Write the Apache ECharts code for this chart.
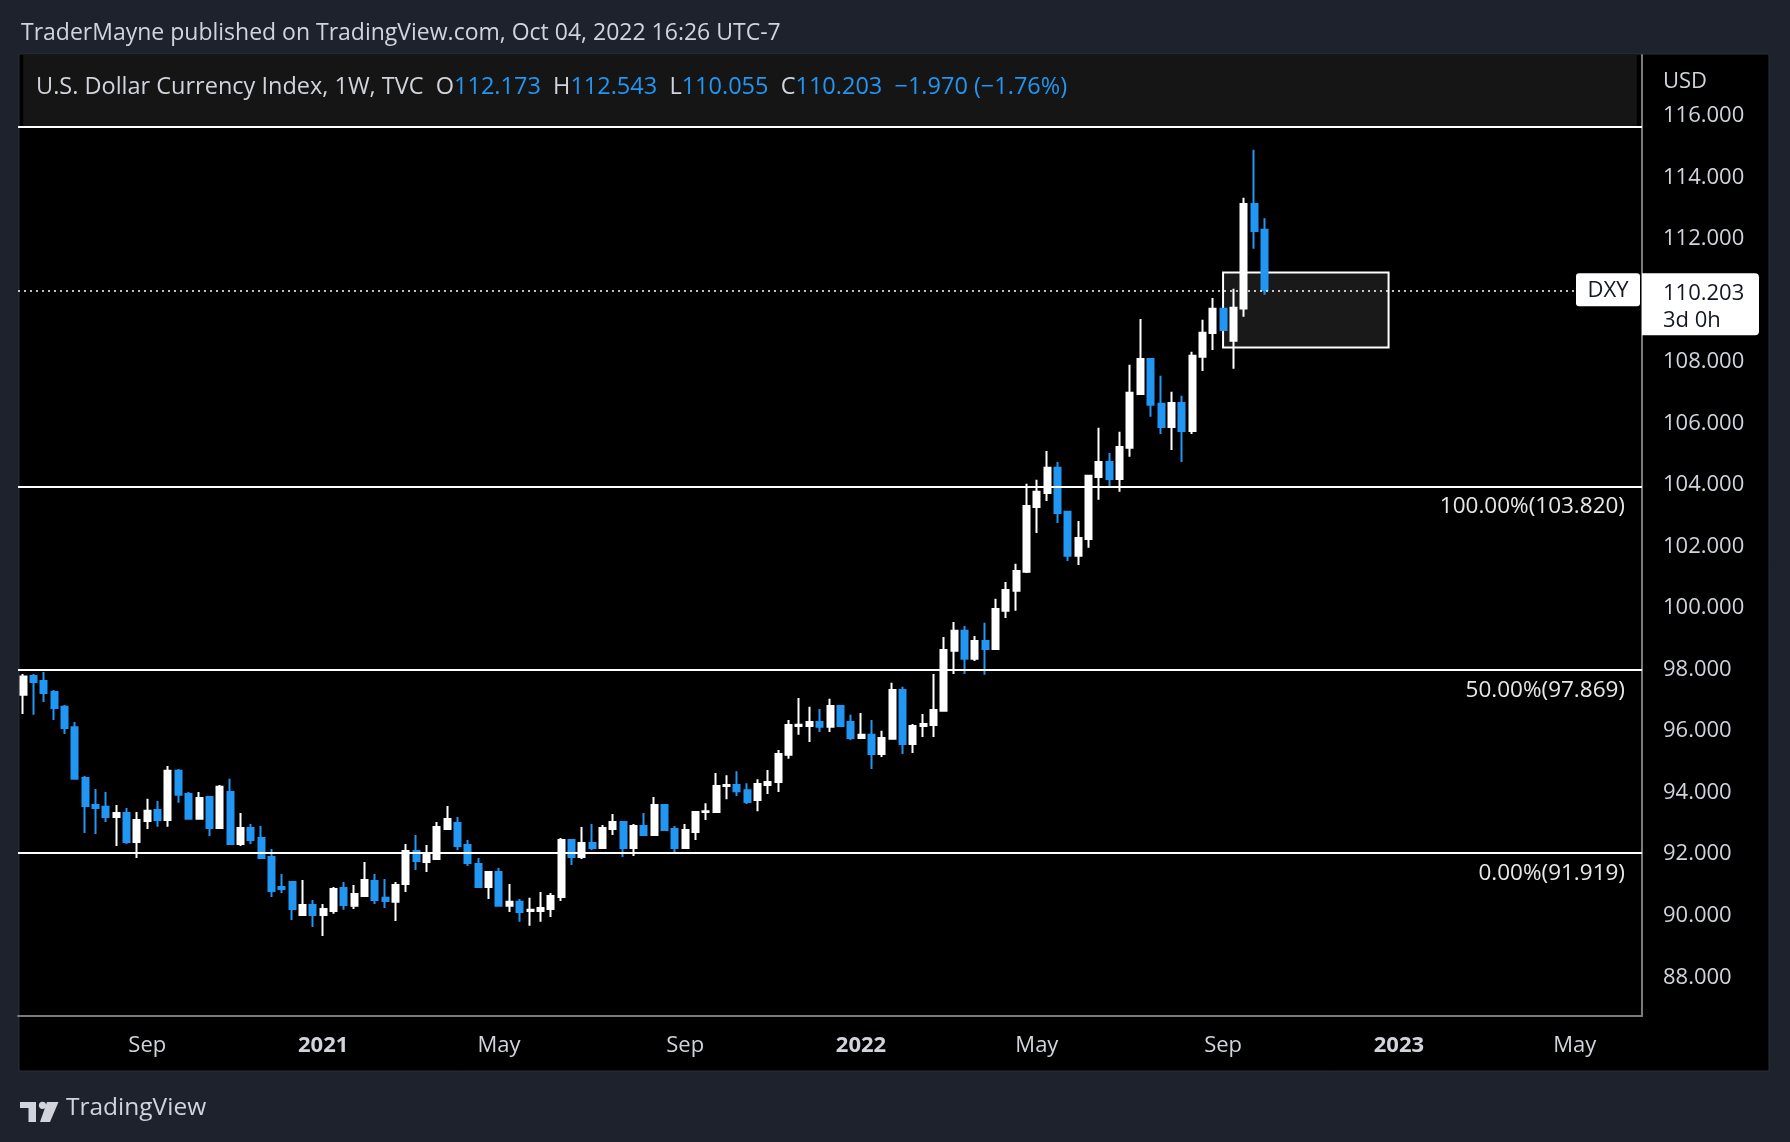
<!DOCTYPE html>
<html>
<head>
<meta charset="utf-8">
<script src="https://cdn.jsdelivr.net/npm/echarts@6/dist/echarts.min.js"></script>
<style>
html, body { margin: 0; padding: 0; background: #1e222d; }
#main { width: 1790px; height: 1142px; }
</style>
</head>
<body>
<div id="main"></div>
<script>
// weekly DXY candles, first bar = week of 2020-06-15
var firstWeek = Date.UTC(2020, 5, 15);
var weekCount = 157;
var monthNames = ['Jan','Feb','Mar','Apr','May','Jun','Jul','Aug','Sep','Oct','Nov','Dec'];

var openPrices = [97.05,97.66,97.50,97.14,96.66,96.00,94.35,93.47,93.41,93.08,93.21,92.27,92.95,93.31,92.98,94.58,93.83,93.02,93.73,92.72,
  93.89,92.20,92.72,92.40,91.78,90.80,90.97,89.89,90.22,89.89,90.02,90.77,90.19,90.51,91.00,90.45,90.32,90.90,91.97,91.62,
  91.71,92.69,92.88,92.17,91.55,90.80,91.29,90.19,90.32,90.02,90.02,90.09,90.48,92.33,91.78,92.23,92.07,92.69,92.92,92.07,
  92.79,92.49,93.47,92.69,92.07,92.59,93.24,93.24,94.09,94.12,93.95,93.63,94.12,94.22,95.10,96.04,96.04,96.17,96.01,96.69,
  96.17,95.65,95.75,95.13,95.62,97.21,95.45,96.04,96.07,96.53,98.48,99.13,98.22,98.80,98.54,99.78,100.43,101.05,103.16,103.61,
  104.43,103.00,101.57,102.12,104.13,104.62,104.07,105.08,106.83,107.97,106.51,105.76,106.54,105.63,108.04,108.81,109.60,108.56,109.61,113.01,
  112.173];
var closePrices = [97.65,97.47,97.11,96.62,95.97,94.32,93.44,93.37,93.08,93.21,92.27,92.98,93.28,92.98,94.58,93.80,93.02,93.70,92.72,94.06,
  92.20,92.72,92.33,91.75,90.67,90.74,90.09,90.22,89.89,90.09,90.74,90.22,90.58,91.03,90.38,90.35,90.87,91.97,91.65,91.91,
  92.75,93.01,92.14,91.58,90.80,91.29,90.19,90.32,89.99,90.06,90.12,90.51,92.33,91.78,92.23,92.07,92.72,92.92,92.07,92.79,
  92.49,93.47,92.66,92.07,92.66,93.24,93.27,94.09,94.12,93.92,93.57,94.15,94.22,95.13,96.07,96.08,96.17,96.01,96.69,96.04,
  95.65,95.75,95.13,95.65,97.21,95.45,96.04,96.10,96.56,98.51,99.13,98.22,98.80,98.54,99.84,100.46,101.08,103.19,103.65,104.43,
  102.96,101.57,102.15,104.17,104.62,104.07,105.11,106.87,107.97,106.48,105.76,106.54,105.63,108.07,108.82,109.60,108.91,109.63,113.01,112.13,
  110.203];
var lowPrices = [96.43,96.40,96.82,96.23,95.78,94.32,92.56,92.53,92.92,92.14,92.20,91.75,92.69,92.76,92.76,93.54,93.02,93.02,92.46,92.72,
  92.20,92.14,92.20,91.75,90.48,90.61,89.73,89.89,89.50,89.21,89.93,90.06,90.09,90.51,90.25,90.12,89.70,90.64,91.36,91.29,
  91.71,92.69,92.01,91.49,90.80,90.41,90.19,89.99,89.67,89.54,89.67,89.83,90.35,91.52,91.71,92.01,92.07,92.49,91.78,91.81,
  92.46,92.49,92.62,91.94,92.04,92.33,92.98,93.21,93.66,93.76,93.50,93.27,93.83,93.89,94.97,95.75,95.52,95.84,95.84,96.01,
  95.58,95.62,94.64,95.03,95.62,95.13,95.16,95.68,95.68,96.53,97.73,97.73,98.15,97.70,98.51,99.55,99.78,101.01,102.31,103.35,
  102.64,101.40,101.27,101.83,103.39,103.78,103.65,104.79,106.83,106.09,105.53,105.01,104.62,105.53,107.58,108.26,108.91,107.65,109.34,111.55,
  110.055];
var highPrices = [97.73,97.73,97.79,97.21,96.72,96.17,94.41,93.99,93.89,93.47,93.37,93.24,93.67,93.60,94.74,94.64,93.89,93.89,93.76,94.12,
  94.32,93.21,92.85,92.79,92.04,91.23,90.97,91.03,90.38,90.25,90.80,90.97,90.87,91.62,91.23,91.06,90.97,92.20,92.49,92.17,
  92.92,93.44,93.08,92.33,91.75,91.32,91.42,90.90,90.41,90.45,90.64,90.61,92.40,92.36,92.75,92.85,92.82,93.18,92.95,92.85,
  93.21,93.73,93.50,92.79,92.85,93.24,93.53,94.51,94.44,94.57,94.18,94.31,94.61,95.26,96.23,96.95,96.66,96.59,96.92,96.69,
  96.40,96.46,96.23,95.88,97.44,97.31,96.10,96.43,97.73,98.93,99.42,99.29,98.96,99.39,100.17,100.72,101.31,103.91,104.04,104.98,
  104.62,103.03,102.70,104.20,105.73,104.91,105.60,107.78,109.27,108.00,107.42,106.90,106.77,108.20,109.24,109.95,109.60,110.25,113.21,114.77,
  112.543];

var fibLevels = [103.82, 97.869, 91.919];
var fibNames = ['100.00%', '50.00%', '0.00%'];
var lastPrice = 110.203;
var topZoneLow = 115.51;
var boxRange = [116, 132];
var boxPrices = [108.34, 110.78];

var FONT = '"Open Sans", "Noto Sans", sans-serif';
var TXT = '#d1d4dc';
var BLUE = '#2196f3';

var weeks = [];
for (var i = 0; i < weekCount; i++) {
  weeks.push(new Date(firstWeek + i * 7 * 86400000).toISOString().slice(0, 10));
}
function tickText(s) {
  var m = +s.slice(5, 7) - 1, day = +s.slice(8, 10);
  if (day > 7) return '';
  if (m === 0) return s.slice(0, 4);
  if (m === 4 || m === 8) return monthNames[m];
  return '';
}

var candles = openPrices.map(function (o, i) {
  return [o, closePrices[i], lowPrices[i], highPrices[i]];
});

var fibLines = fibLevels.map(function (v, i) {
  return {
    yAxis: v,
    name: fibNames[i],
    lineStyle: { color: '#ffffff', width: 2, type: 'solid' },
    label: {
      show: true,
      position: 'insideEndBottom',
      distance: [17, 9],
      color: '#e8e8e8',
      fontFamily: FONT,
      fontSize: 22.5,
      formatter: fibNames[i] + '(' + v.toFixed(3) + ')'
    }
  };
});

var chart = echarts.init(document.getElementById('main'));

var option = {
  backgroundColor: '#1e222d',
  animation: false,
  grid: { left: 18, right: 148, top: 55, bottom: 126 },
  xAxis: {
    type: 'category',
    data: weeks,
    boundaryGap: true,
    axisLine: { show: true, lineStyle: { color: '#7b7b7b', width: 2 } },
    axisTick: { show: false },
    splitLine: { show: false },
    axisLabel: {
      margin: 19,
      color: TXT,
      fontFamily: FONT,
      fontSize: 22,
      interval: function (idx, val) { return tickText(val) !== ''; },
      formatter: function (val) {
        var t = tickText(val);
        return t.length === 4 ? '{yr|' + t + '}' : t;
      },
      rich: { yr: { fontWeight: 'bold', color: TXT, fontFamily: FONT, fontSize: 22 } }
    }
  },
  yAxis: {
    type: 'value',
    position: 'right',
    min: 86.61,
    max: 117.85,
    splitNumber: 15,
    scale: true,
    axisLine: { show: true, lineStyle: { color: '#7b7b7b', width: 2 } },
    axisTick: { show: false },
    splitLine: { show: false },
    axisLabel: {
      margin: 21,
      color: TXT,
      fontFamily: FONT,
      fontSize: 22,
      showMinLabel: false,
      showMaxLabel: false,
      formatter: function (v) {
        var r = Math.round(v);
        if (Math.abs(v - r) > 1e-6 || r % 2 !== 0) return '';
        return '{p|' + r.toFixed(3) + '}';
      },
      rich: { p: { color: TXT, fontFamily: FONT, fontSize: 22, lineHeight: 24, padding: [8, 0, 0, 0] } }
    }
  },
  series: [
    {
      name: 'drawings',
      type: 'line',
      data: [],
      z: 1,
      silent: true,
      markArea: {
        silent: true,
        data: [
          [
            { xAxis: 0, yAxis: topZoneLow, itemStyle: { color: '#151515', borderWidth: 0 } },
            { xAxis: weekCount - 1, yAxis: 130 }
          ],
          [
            { xAxis: boxRange[0], yAxis: boxPrices[0], itemStyle: { color: '#191919', borderColor: '#ffffff', borderWidth: 2 } },
            { xAxis: boxRange[1], yAxis: boxPrices[1] }
          ]
        ]
      },
      markLine: {
        silent: true,
        symbol: 'none',
        data: fibLines.concat([
          { yAxis: topZoneLow, lineStyle: { color: '#ffffff', width: 2, type: 'solid' }, label: { show: false } },
          { yAxis: lastPrice, lineStyle: { color: '#ffffff', width: 1.5, type: [2, 4] }, label: { show: false } }
        ])
      }
    },
    {
      name: 'DXY',
      type: 'candlestick',
      z: 3,
      data: candles,
      barWidth: 6.5,
      itemStyle: {
        color: '#ffffff',
        color0: BLUE,
        borderColor: '#ffffff',
        borderColor0: BLUE,
        borderWidth: 2
      }
    }
  ],
  graphic: [
    { type: 'rect', z: -10, shape: { x: 19, y: 54, width: 1750, height: 1017 },
      style: { fill: '#000000', stroke: '#2a2e39', lineWidth: 1 } },
    { type: 'text', left: 21, top: 22, z: 10,
      style: { text: 'TraderMayne published on TradingView.com, Oct 04, 2022 16:26 UTC-7',
        fill: TXT, font: '23px ' + FONT } },
    { type: 'text', left: 36, top: 75, z: 10,
      style: {
        text: '{n|U.S. Dollar Currency Index, 1W, TVC  O}{v|112.173}{n|  H}{v|112.543}{n|  L}{v|110.055}{n|  C}{v|110.203}{v|  \u22121.970 (\u22121.76%)}',
        rich: {
          n: { fill: TXT, font: '23.5px ' + FONT },
          v: { fill: BLUE, font: '23.5px ' + FONT }
        }
      } },
    { type: 'text', left: 1663, top: 71, z: 10,
      style: { text: 'USD', fill: TXT, font: '22px ' + FONT } },
    { type: 'rect', z: 10, shape: { x: 20, y: 1102, width: 16, height: 6 }, style: { fill: TXT } },
    { type: 'rect', z: 10, shape: { x: 28.5, y: 1102, width: 7.5, height: 20 }, style: { fill: TXT } },
    { type: 'circle', z: 10, shape: { cx: 42.5, cy: 1105.3, r: 3.6 }, style: { fill: TXT } },
    { type: 'polygon', z: 10, shape: { points: [[47, 1102], [58.5, 1102], [50, 1122], [40, 1122]] }, style: { fill: TXT } },
    { type: 'text', left: 66, top: 1096, z: 10,
      style: { text: 'TradingView', fill: TXT, font: '24.5px ' + FONT } }
  ]
};

chart.setOption(option);

// price tags at the last close
var py = chart.convertToPixel({ yAxisIndex: 0 }, lastPrice);
chart.setOption({
  graphic: option.graphic.concat([
    { type: 'rect', z: 20, shape: { x: 1576, y: py - 17, width: 64, height: 33, r: 3 },
      style: { fill: '#ffffff' } },
    { type: 'text', z: 21, x: 1608, y: py, style: { text: 'DXY', fill: '#131722', font: '22px ' + FONT,
      textAlign: 'center', textVerticalAlign: 'middle' } },
    { type: 'rect', z: 20, shape: { x: 1642, y: py - 17, width: 117, height: 62, r: [0, 4, 4, 0] },
      style: { fill: '#ffffff' } },
    { type: 'text', z: 21, x: 1663, y: py + 3, style: { text: lastPrice.toFixed(3), fill: '#131722',
      font: '22px ' + FONT, textVerticalAlign: 'middle' } },
    { type: 'text', z: 21, x: 1663, y: py + 30, style: { text: '3d 0h', fill: '#131722',
      font: '22px ' + FONT, textVerticalAlign: 'middle' } }
  ])
});
</script>
</body>
</html>
